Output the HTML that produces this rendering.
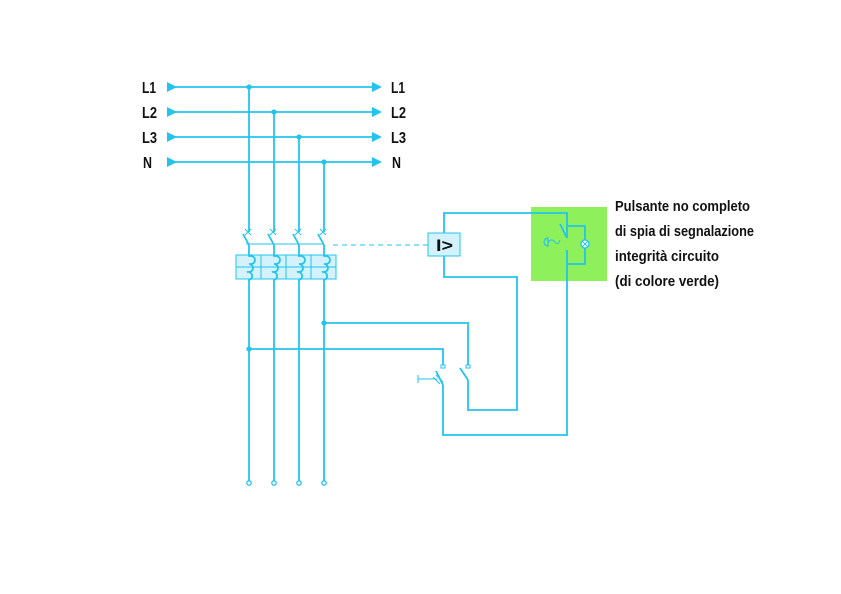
<!DOCTYPE html>
<html><head><style>
html,body{margin:0;padding:0;background:#fff;}
svg{display:block;}
text{font-family:"Liberation Sans",sans-serif;font-weight:bold;fill:#111;}
</style></head><body>
<svg width="841" height="594" viewBox="0 0 841 594" xmlns="http://www.w3.org/2000/svg">
<g fill="none" stroke="#22c4ee" stroke-width="1.8">
<rect x="531" y="207" width="76" height="74" fill="#8ef05a" stroke="none"/>
<line x1="167" y1="87" x2="374" y2="87"/>
<line x1="167" y1="112" x2="374" y2="112"/>
<line x1="167" y1="137" x2="374" y2="137"/>
<line x1="167" y1="162" x2="374" y2="162"/>
<polyline points="249,87 249,232"/><polyline points="274,112 274,232"/>
<polyline points="299,137 299,232"/><polyline points="324,162 324,232"/>
<line x1="249" y1="245" x2="243" y2="234"/><line x1="274" y1="245" x2="268" y2="234"/>
<line x1="299" y1="245" x2="293" y2="234"/><line x1="324" y1="245" x2="318" y2="234"/>
<line x1="245" y1="229" x2="251" y2="235" stroke-width="1"/><line x1="251" y1="229" x2="245" y2="235" stroke-width="1"/>
<line x1="270" y1="229" x2="276" y2="235" stroke-width="1"/><line x1="276" y1="229" x2="270" y2="235" stroke-width="1"/>
<line x1="295" y1="229" x2="301" y2="235" stroke-width="1"/><line x1="301" y1="229" x2="295" y2="235" stroke-width="1"/>
<line x1="320" y1="229" x2="326" y2="235" stroke-width="1"/><line x1="326" y1="229" x2="320" y2="235" stroke-width="1"/>
<line x1="246" y1="244" x2="324" y2="244" stroke-width="1"/>
<line x1="333" y1="245" x2="428" y2="245" stroke-dasharray="5,4" stroke-width="1"/>
<rect x="236" y="255" width="100" height="24" fill="#d4f2fb" stroke-width="1"/>
<line x1="236" y1="267" x2="336" y2="267" stroke-width="1"/>
<line x1="261" y1="255" x2="261" y2="279" stroke-width="1"/>
<line x1="286" y1="255" x2="286" y2="279" stroke-width="1"/>
<line x1="311" y1="255" x2="311" y2="279" stroke-width="1"/>
<path d="M249 245 V256 h2 a4 4 0 0 1 0 8 h-2 a4 4 0 0 1 0 8 h-2 a4 4 0 0 1 2 8 V483"/>
<path d="M274 245 V256 h2 a4 4 0 0 1 0 8 h-2 a4 4 0 0 1 0 8 h-2 a4 4 0 0 1 2 8 V483"/>
<path d="M299 245 V256 h2 a4 4 0 0 1 0 8 h-2 a4 4 0 0 1 0 8 h-2 a4 4 0 0 1 2 8 V483"/>
<path d="M324 245 V256 h2 a4 4 0 0 1 0 8 h-2 a4 4 0 0 1 0 8 h-2 a4 4 0 0 1 2 8 V483"/>
<circle cx="249" cy="483" r="2.2" fill="#fff" stroke-width="1.3"/><circle cx="274" cy="483" r="2.2" fill="#fff" stroke-width="1.3"/>
<circle cx="299" cy="483" r="2.2" fill="#fff" stroke-width="1.3"/><circle cx="324" cy="483" r="2.2" fill="#fff" stroke-width="1.3"/>
<rect x="428" y="233" width="32" height="23" fill="#d4f2fb" stroke-width="1"/>
<polyline points="444,233 444,213 567,213 567,238"/>
<line x1="567" y1="238" x2="560" y2="224"/>
<polyline points="567,226 585,226 585,240"/>
<polyline points="585,248 585,264 567,264"/>
<polyline points="567,250 567,435 443,435 443,385"/>
<circle cx="585" cy="244" r="4" fill="#fff" stroke-width="1.3"/>
<line x1="582" y1="241" x2="588" y2="247" stroke-width="1"/><line x1="588" y1="241" x2="582" y2="247" stroke-width="1"/>
<path d="M548 238 a4 4 0 0 0 0 8 Z" stroke-width="1.2"/>
<path d="M548 242 q4 -4 7 0 q3 4 5 -2" stroke-width="1"/>
<polyline points="444,256 444,277 517,277 517,410 468,410 468,380"/>
<line x1="468" y1="380" x2="460" y2="368"/>
<polyline points="324,323 468,323 468,365"/>
<polyline points="249,349 443,349 443,365"/>
<rect x="441" y="365" width="4" height="3" stroke-width="1"/>
<rect x="466" y="365" width="4" height="3" stroke-width="1"/>
<line x1="443" y1="385" x2="436" y2="371"/>
<line x1="433" y1="377" x2="440" y2="384" stroke-width="1"/><line x1="436" y1="375" x2="443" y2="382" stroke-width="1"/>
<line x1="418" y1="379" x2="437" y2="379" stroke-width="1"/>
<line x1="418" y1="375" x2="418" y2="383" stroke-width="1"/>
</g>
<g fill="#22c4ee">
<circle cx="249" cy="87" r="2.6"/><circle cx="274" cy="112" r="2.6"/>
<circle cx="299" cy="137" r="2.6"/><circle cx="324" cy="162" r="2.6"/>
<circle cx="324" cy="323" r="2.6"/><circle cx="249" cy="349" r="2.6"/>
<polygon points="167,82 177,87 167,92"/><polygon points="167,107 177,112 167,117"/>
<polygon points="167,132 177,137 167,142"/><polygon points="167,157 177,162 167,167"/>
<polygon points="372,82 382,87 372,92"/><polygon points="372,107 382,112 372,117"/>
<polygon points="372,132 382,137 372,142"/><polygon points="372,157 382,162 372,167"/>
</g>
<g font-size="16">
<text x="142" y="93" textLength="14" lengthAdjust="spacingAndGlyphs">L1</text>
<text x="142" y="118" textLength="15" lengthAdjust="spacingAndGlyphs">L2</text>
<text x="142" y="143" textLength="15" lengthAdjust="spacingAndGlyphs">L3</text>
<text x="143" y="168" textLength="9" lengthAdjust="spacingAndGlyphs">N</text>
<text x="391" y="93" textLength="14" lengthAdjust="spacingAndGlyphs">L1</text>
<text x="391" y="118" textLength="15" lengthAdjust="spacingAndGlyphs">L2</text>
<text x="391" y="143" textLength="15" lengthAdjust="spacingAndGlyphs">L3</text>
<text x="392" y="168" textLength="9" lengthAdjust="spacingAndGlyphs">N</text>
<text x="436" y="251" font-size="17" textLength="17" lengthAdjust="spacingAndGlyphs">I&gt;</text>
</g>
<g font-size="15">
<text x="615" y="211" textLength="135" lengthAdjust="spacingAndGlyphs">Pulsante no completo</text>
<text x="615" y="236" textLength="139" lengthAdjust="spacingAndGlyphs">di spia di segnalazione</text>
<text x="615" y="261" textLength="104" lengthAdjust="spacingAndGlyphs">integrità circuito</text>
<text x="615" y="286" textLength="104" lengthAdjust="spacingAndGlyphs">(di colore verde)</text>
</g>
</svg>
</body></html>
